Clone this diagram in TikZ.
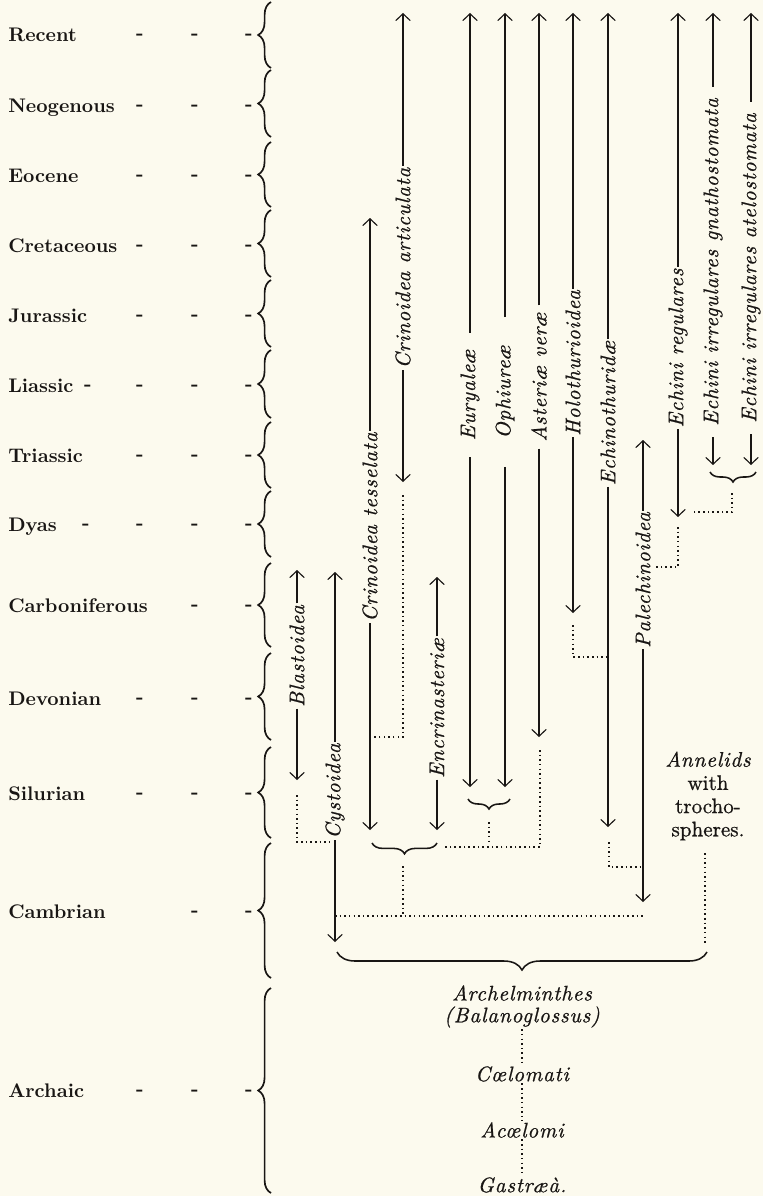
\documentclass[tikz,border=0pt]{standalone}
\usepackage{fontspec}
\setmainfont{lmroman10}[Extension=.otf,UprightFont=*-regular,BoldFont=*-bold,ItalicFont=*-italic,BoldItalicFont=*-bolditalic]
\newfontfamily\spacedit{lmroman10}[Extension=.otf,UprightFont=*-italic,LetterSpace=4,FakeBold=0.8]
\newfontfamily\heavyrm{lmroman10}[Extension=.otf,UprightFont=*-regular,FakeBold=0.8]
\usepackage{tikz}
\usetikzlibrary{arrows.meta,decorations.pathreplacing,calc}
\definecolor{paper}{RGB}{252,250,238}
\definecolor{ink}{RGB}{25,22,20}
\tikzset{
  era/.style     ={font=\fontsize{14}{16}\selectfont\bfseries, anchor=base west, inner sep=0pt, text=ink},
  tick/.style    ={font=\fontsize{14}{16}\selectfont\bfseries, anchor=base, inner sep=0pt, text=ink},
  taxon/.style   ={font=\fontsize{15}{17}\spacedit, rotate=90, inner sep=1pt, text=ink},
  stage/.style   ={font=\fontsize{15}{17}\spacedit, inner sep=1pt, text=ink},
  stem/.style    ={draw=ink, line width=0.8pt},
  arr/.style     ={stem, -{Straight Barb[length=1.7mm,width=3.6mm,line width=0.8pt]}},
  dotline/.style ={draw=ink, line width=1.1pt, dash pattern=on 1.1pt off 2.2pt},
  erabrace/.style={draw=ink, line width=1.2pt, decorate, decoration={brace,amplitude=0.32cm}},
  grpbrace/.style={draw=ink, line width=1.1pt, decorate, decoration={brace,amplitude=#1}}
}

\begin{document}
\begin{tikzpicture}[x=0.025cm, y=-0.025cm]
  \path[use as bounding box, fill=paper] (0,0) rectangle (763,1196);

  % geological periods
  \foreach \nm/\lab/\yy/\ya/\yb in {rec/Recent/35/2/68, neo/Neogenous/105/70/137, eoc/Eocene/175/142/207,
      cret/Cretaceous/245/210/277, jur/Jurassic/315/280/347, lias/Liassic/385/350/418,
      trias/Triassic/455/422/488, dyas/Dyas/524/491/557, carb/Carboniferous/605/563/647,
      dev/Devonian/698/653/740, sil/Silurian/793/747/838, camb/Cambrian/911/843/978,
      arch/Archaic/1090/988/1193}{
    \node[era] (\nm) at (8,\yy+7) {\lab};
    \node[tick] (\nm-b) at (195,\yy+5) {-};
    \node[tick] (\nm-c) at (249,\yy+5) {-};
    \draw[erabrace] (271,\yb) -- (271,\ya);
  }
  \foreach \nm/\dx/\yy in {rec/140/35, neo/140/105, eoc/140/175, cret/140/245, jur/140/315,
      lias/88/385, lias/140/385, trias/140/455, dyas/86/524, dyas/140/524, dev/140/698,
      sil/140/793, arch/140/1090}{
    \node[tick] (\nm-a\dx) at (\dx,\yy+5) {-};
  }

  % lines of descent
  \foreach \nm/\xx/\yc/\yt/\yb/\gp/\txt in {
      blast/297/656/570/780/1/Blastoidea,
      cyst/335/791/572/942/1/Cystoidea,
      tess/370/527/218/830/1/Crinoidea tesselata,
      artic/403/268/13/482/1/Crinoidea  articulata,
      encr/437/708/577/830/1/Encrinasteriæ,
      eury/470/395/13/787/12/Euryaleæ,
      ophi/505/392/13/787/20/Ophiureæ,
      aster/539/377/13/737/5/Asteriæ veræ,
      holo/573/363/13/613/1/Holothurioidea,
      echth/608/413/13/827/1/Echinothuridæ,
      pale/643/580/440/902/1/Palechinoidea,
      echreg/678/348/13/517/1/Echini regulares,
      gnath/713/262/13/465/8/Echini irregulares gnathostomata,
      atelo/751/268/13/465/8/Echini irregulares atelostomata}{
    \node[taxon, inner xsep=\gp pt] (\nm) at (\xx,\yc) {\txt};
    \coordinate (\nm-t) at (\xx,\yt);
    \coordinate (\nm-b) at (\xx,\yb);
    \draw[arr] (\nm.east) -- (\nm-t);
    \draw[arr] (\nm.west) -- (\nm-b);
  }

  % junctions
  \coordinate (j1a) at (297,795);  \coordinate (j1b) at (333,842);
  \coordinate (j2a) at (403,495);  \coordinate (j2b) at (372,737);
  \coordinate (j3a) at (540,750);  \coordinate (j3b) at (443,847);
  \coordinate (j4a) at (573,625);  \coordinate (j4b) at (606,657);
  \coordinate (j5a) at (609,842);  \coordinate (j5b) at (641,867);
  \coordinate (j6a) at (678,527);  \coordinate (j6b) at (655,567);
  \coordinate (j7a) at (732,493);  \coordinate (j7b) at (692,512);
  \coordinate (j8a) at (403,866);  \coordinate (j8b) at (403,914);
  \coordinate (j9a) at (489,822);  \coordinate (j9b) at (489,845);
  \coordinate (bigL) at (335,916); \coordinate (bigR) at (643,916);
  \draw[dotline] (j1a) |- (j1b);
  \draw[dotline] (j2a) |- (j2b);
  \draw[dotline] (j3a) |- (j3b);
  \draw[dotline] (j4a) |- (j4b);
  \draw[dotline] (j5a) |- (j5b);
  \draw[dotline] (j6a) |- (j6b);
  \draw[dotline] (j7a) |- (j7b);
  \draw[dotline] (j8a) -- (j8b);
  \draw[dotline] (j9a) -- (j9b);
  \draw[dotline] (bigL) -- (bigR);

  \draw[grpbrace=0.27cm] (437,843) -- (372,843);
  \draw[grpbrace=0.25cm] (510,799) -- (468,799);
  \draw[grpbrace=0.25cm] (756,472) -- (710,472);

  \node[align=center, font=\fontsize{15}{16.5}\heavyrm, text=ink, inner sep=1pt] (annel) at (708,796)
    {{\spacedit Annelids}\\with\\trocho-\\spheres.};
  \coordinate (annel-t) at (705,853);
  \coordinate (annel-b) at (705,945);
  \draw[dotline] (annel-t) -- (annel-b);

  \draw[grpbrace=0.45cm] (707,952) -- (337,952);

  \node[stage] (archel) at (522,993) {Archelminthes};
  \node[stage] (balano) at (522,1017) {(Balanoglossus)};
  \node[stage] (coelo) at (522,1074) {Cœlomati};
  \node[stage] (acoel) at (522,1130) {Acœlomi};
  \node[stage] (gastr) at (522,1185) {Gastræà.};
  \draw[dotline] (balano) -- (coelo);
  \draw[dotline] (coelo) -- (acoel);
  \draw[dotline] (acoel) -- (gastr);
\end{tikzpicture}
\end{document}
